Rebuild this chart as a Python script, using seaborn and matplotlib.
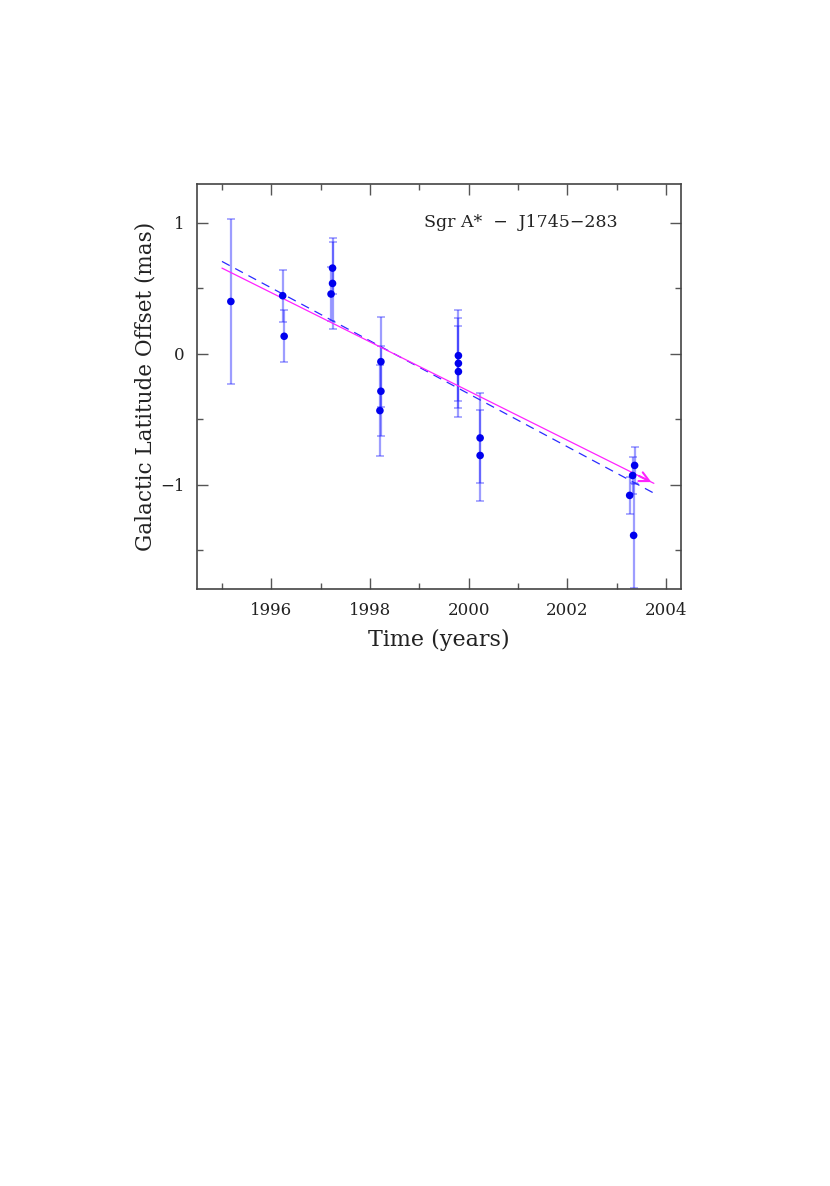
import numpy as np
import pandas as pd
import matplotlib
matplotlib.use("Agg")
import matplotlib.pyplot as plt
import seaborn as sns
from matplotlib.ticker import MultipleLocator

# ---- data ----
epochs = [1995.18, 1996.23, 1996.26, 1997.24, 1997.24, 1997.21,
          1998.22, 1998.22, 1998.20, 1999.79, 1999.79, 1999.79,
          2000.23, 2000.23, 2003.36, 2003.32, 2003.26, 2003.34]
offsets = [0.40, 0.444, 0.134, 0.655, 0.538, 0.457,
           -0.06, -0.286, -0.434, -0.014, -0.073, -0.136,
           -0.643, -0.777, -0.853, -0.93, -1.082, -1.388]
errors = [0.63, 0.20, 0.20, 0.20, 0.346, 0.204,
          0.345, 0.345, 0.345, 0.345, 0.345, 0.345,
          0.345, 0.345, 0.14, 0.14, 0.14, 0.40]

fit_x = [1995.0, 2003.75]
fit_dashed_y = [0.706, -1.065]
fit_motion_y = [0.655, -0.99]

label_text = "Sgr A*  \u2212  J1745\u2212283"
xlabel = "Time (years)"
ylabel = "Galactic Latitude Offset (mas)"

df = pd.DataFrame({"t": epochs, "off": offsets, "err": errors})
fit_df = pd.DataFrame({"t": fit_x, "dash": fit_dashed_y, "motion": fit_motion_y})

sns.set_style("ticks")
plt.rcParams["font.family"] = ["DejaVu Serif", "DejaVu Sans"]
plt.rcParams["mathtext.fontset"] = "dejavuserif"

fig = plt.figure(figsize=(8.3, 11.86), dpi=100)
ax = fig.add_axes([0.2377, 0.5031, 0.5828, 0.3420])

# error bars (light, translucent blue)
ax.errorbar(df["t"], df["off"], yerr=df["err"], fmt="none",
            ecolor=(0.15, 0.15, 1.0), alpha=0.45, elinewidth=1.6,
            capsize=3.0, capthick=1.2, zorder=2)

# fitted lines
sns.lineplot(data=fit_df, x="t", y="dash", ax=ax, color="#2b2bff",
             linestyle=(0, (7, 5)), linewidth=0.9, zorder=3)
sns.lineplot(data=fit_df, x="t", y="motion", ax=ax, color="#ff22ff",
             linewidth=0.9, zorder=3)
slope = (fit_df["motion"].iloc[-1] - fit_df["motion"].iloc[0]) / (fit_df["t"].iloc[-1] - fit_df["t"].iloc[0])
ax.annotate("", xy=(fit_df["t"].iloc[-1], fit_df["motion"].iloc[-1]),
            xytext=(fit_df["t"].iloc[-1] - 0.35,
                    fit_df["motion"].iloc[-1] - 0.35 * slope),
            arrowprops=dict(arrowstyle="->,head_length=0.7,head_width=0.35",
                            color="#ff22ff", lw=1.5), zorder=4)

# data points
sns.scatterplot(data=df, x="t", y="off", ax=ax, color="#0000ee",
                s=30, edgecolor="none", zorder=5)

ax.set_xlim(1994.5, 2004.3)
ax.set_ylim(-1.8, 1.3)
ax.xaxis.set_major_locator(MultipleLocator(2))
ax.xaxis.set_minor_locator(MultipleLocator(1))
ax.yaxis.set_major_locator(MultipleLocator(1))
ax.yaxis.set_minor_locator(MultipleLocator(0.5))
ax.tick_params(which="both", direction="in", top=True, right=True,
               color="#555555", labelsize=12, labelcolor="#222222")
ax.tick_params(which="major", length=8, width=1.0, pad=9)
ax.tick_params(which="minor", length=4.5, width=1.0)
for s in ax.spines.values():
    s.set_color("#444444")
    s.set_linewidth(1.2)

ax.set_xlabel(xlabel, fontsize=16, color="#222222", labelpad=7)
ax.set_ylabel(ylabel, fontsize=15.5, color="#222222", labelpad=3)
ax.text(0.868, 0.905, label_text, transform=ax.transAxes, ha="right",
        va="center", fontsize=12.5, color="#222222")

fig.savefig("out.png", dpi=100)
